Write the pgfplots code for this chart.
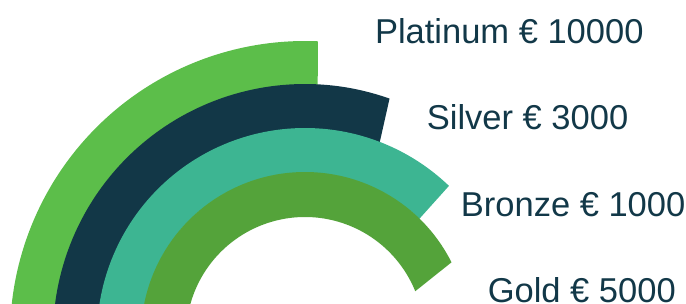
\documentclass[border=0pt]{standalone}
\usepackage{pgfplots}
\pgfplotsset{compat=1.18}
\usepgfplotslibrary{fillbetween}
\usepackage{fontspec}
\setmainfont{Liberation Sans}
\definecolor{plat}{RGB}{92,190,74}
\definecolor{silv}{RGB}{18,55,71}
\definecolor{bron}{RGB}{61,181,146}
\definecolor{gold}{RGB}{84,163,58}
\definecolor{txt}{RGB}{18,56,72}
\begin{document}
\begin{tikzpicture}
\begin{axis}[
  x=1pt, y=1pt,
  xmin=-305, xmax=381, ymin=33, ymax=336,
  hide axis, clip=true,
  every axis plot/.append style={samples=160, data cs=polar},
]
% Platinum: radius 251.5-295, ends at 87.5 deg (outer) / 87.1 deg (inner)
\addplot[draw=none, name path=po, domain=180:87.5] {295};
\addplot[draw=none, name path=pi, domain=180:87.1] {251.5};
\addplot[fill=plat, draw=none] fill between[of=po and pi];
% Silver: radius 207.5-252, ends at 70.4 / 68.9 deg
\addplot[draw=none, name path=so, domain=180:70.4] {252};
\addplot[draw=none, name path=si, domain=180:68.9] {207.5};
\addplot[fill=silv, draw=none] fill between[of=so and si];
% Bronze: radius 163.5-208, ends at 46.2 / 45.7 deg
\addplot[draw=none, name path=bo, domain=180:46.2] {208};
\addplot[draw=none, name path=bi, domain=180:45.7] {163.5};
\addplot[fill=bron, draw=none] fill between[of=bo and bi];
% Gold: radius 119-164, ends at 26.7 / 22.1 deg
\addplot[draw=none, name path=go, domain=180:26.7] {164};
\addplot[draw=none, name path=gi, domain=180:22.1] {119};
\addplot[fill=gold, draw=none] fill between[of=go and gi];

\begin{scope}[every node/.style={anchor=base west, inner sep=0pt, text=txt,
    font=\fontsize{34.5}{40}\selectfont}]
\node at (axis cs:69.8,292.7) {Platinum € 10000};
\node at (axis cs:121.7,206) {Silver € 3000};
\node at (axis cs:155.7,119.3) {Bronze € 1000};
\node at (axis cs:182.6,34.0) {Gold € 5000};
\end{scope}
\end{axis}
\pgfresetboundingbox
\path[use as bounding box] (current axis.south west) rectangle (current axis.north east);
\end{tikzpicture}
\end{document}
